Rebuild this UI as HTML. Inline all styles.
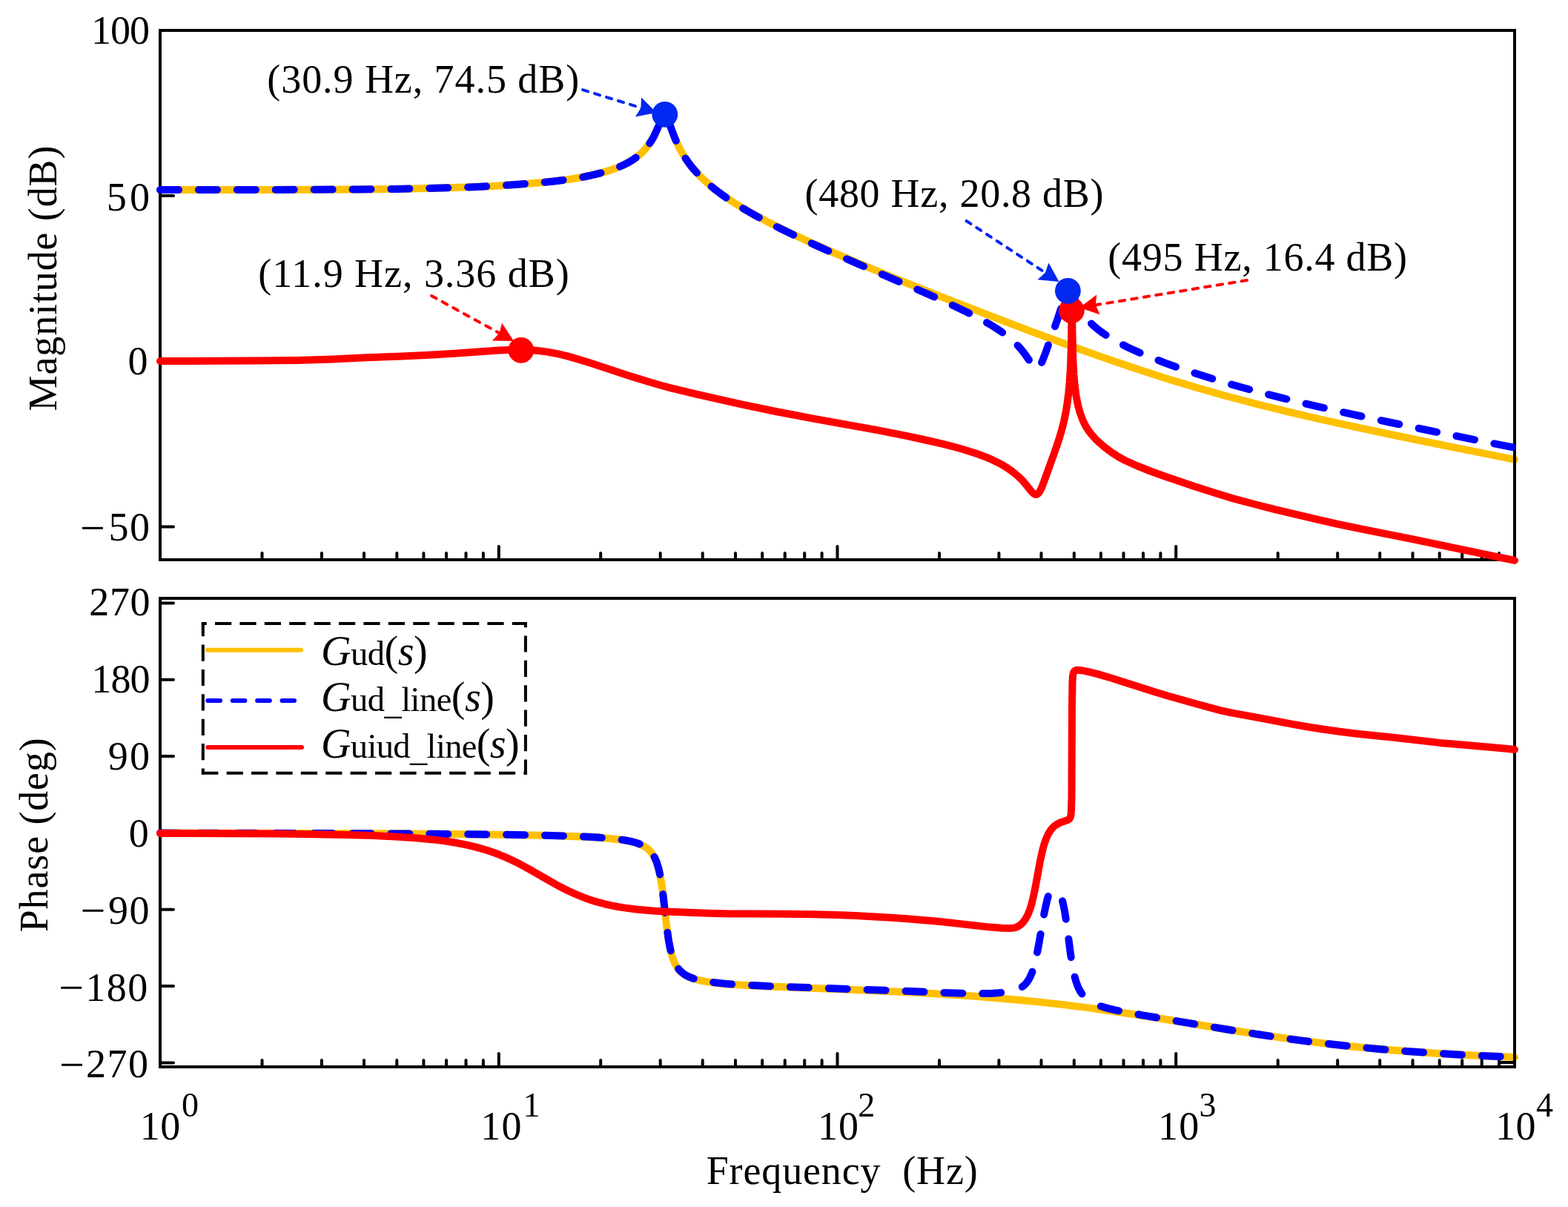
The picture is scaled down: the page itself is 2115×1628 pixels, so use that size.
<!DOCTYPE html>
<html lang="en"><head><meta charset="utf-8"><title>Bode plot</title>
<style>html,body{margin:0;padding:0;background:#fff;}svg{display:block;font-family:'Liberation Serif', 'DejaVu Serif', serif;}text{fill:#000;white-space:pre;}</style>
</head><body>
<svg width="2115" height="1628" viewBox="0 0 2115 1628" role="img" aria-label="Bode plot: magnitude and phase versus frequency">
<rect x="0" y="0" width="2115" height="1628" fill="#fff"/>
<path d="M216.0,256.1 L376.5,255.9 L480.7,255.5 L533.7,254.9 L586.4,253.8 L644.5,251.9 L665.7,250.9 L687.4,249.5 L712.1,247.7 L735.4,245.7 L753.3,243.7 L769.5,241.6 L783.6,239.3 L796.5,236.7 L810.0,233.4 L821.6,230.1 L831.3,226.7 L840.0,223.0 L847.7,219.0 L855.1,214.4 L861.1,210.0 L866.5,205.2 L871.3,200.0 L875.6,194.3 L879.6,188.1 L883.4,180.9 L886.2,174.9 L891.6,162.0 L893.5,158.0 L895.2,155.4 L896.1,154.9 L896.9,154.8 L897.7,155.2 L898.6,156.2 L900.4,159.7 L909.0,183.1 L911.9,190.0 L914.9,196.5 L917.8,202.2 L921.0,207.8 L924.3,213.1 L927.9,218.3 L932.4,224.2 L937.3,230.0 L942.5,235.7 L948.1,241.3 L954.2,246.8 L960.6,252.3 L967.6,257.8 L975.1,263.3 L983.4,269.0 L992.2,274.8 L1001.7,280.6 L1011.9,286.5 L1034.4,298.7 L1060.1,311.5 L1089.4,325.2 L1122.9,340.1 L1161.5,356.5 L1206.0,374.8 L1265.4,398.6 L1329.1,423.4 L1389.1,446.3 L1443.2,466.2 L1490.0,482.9 L1533.3,497.6 L1574.5,510.9 L1614.7,523.0 L1653.5,534.0 L1693.3,544.5 L1735.3,554.9 L1780.8,565.5 L1830.4,576.4 L1887.6,588.5 L1955.9,602.4 L2043.0,619.8" fill="none" stroke="#ffc000" stroke-width="10" stroke-linecap="round" stroke-linejoin="round"/>
<g stroke="#000" stroke-width="4" fill="none" stroke-linecap="round">
<line x1="353.5" y1="755.0" x2="353.5" y2="746.0"/>
<line x1="433.9" y1="755.0" x2="433.9" y2="746.0"/>
<line x1="491.0" y1="755.0" x2="491.0" y2="746.0"/>
<line x1="535.3" y1="755.0" x2="535.3" y2="746.0"/>
<line x1="571.4" y1="755.0" x2="571.4" y2="746.0"/>
<line x1="602.0" y1="755.0" x2="602.0" y2="746.0"/>
<line x1="628.5" y1="755.0" x2="628.5" y2="746.0"/>
<line x1="651.9" y1="755.0" x2="651.9" y2="746.0"/>
<line x1="672.8" y1="755.0" x2="672.8" y2="737.0"/>
<line x1="810.2" y1="755.0" x2="810.2" y2="746.0"/>
<line x1="890.7" y1="755.0" x2="890.7" y2="746.0"/>
<line x1="947.7" y1="755.0" x2="947.7" y2="746.0"/>
<line x1="992.0" y1="755.0" x2="992.0" y2="746.0"/>
<line x1="1028.2" y1="755.0" x2="1028.2" y2="746.0"/>
<line x1="1058.7" y1="755.0" x2="1058.7" y2="746.0"/>
<line x1="1085.2" y1="755.0" x2="1085.2" y2="746.0"/>
<line x1="1108.6" y1="755.0" x2="1108.6" y2="746.0"/>
<line x1="1129.5" y1="755.0" x2="1129.5" y2="737.0"/>
<line x1="1267.0" y1="755.0" x2="1267.0" y2="746.0"/>
<line x1="1347.4" y1="755.0" x2="1347.4" y2="746.0"/>
<line x1="1404.5" y1="755.0" x2="1404.5" y2="746.0"/>
<line x1="1448.8" y1="755.0" x2="1448.8" y2="746.0"/>
<line x1="1484.9" y1="755.0" x2="1484.9" y2="746.0"/>
<line x1="1515.5" y1="755.0" x2="1515.5" y2="746.0"/>
<line x1="1542.0" y1="755.0" x2="1542.0" y2="746.0"/>
<line x1="1565.4" y1="755.0" x2="1565.4" y2="746.0"/>
<line x1="1586.2" y1="755.0" x2="1586.2" y2="737.0"/>
<line x1="1723.7" y1="755.0" x2="1723.7" y2="746.0"/>
<line x1="1804.2" y1="755.0" x2="1804.2" y2="746.0"/>
<line x1="1861.2" y1="755.0" x2="1861.2" y2="746.0"/>
<line x1="1905.5" y1="755.0" x2="1905.5" y2="746.0"/>
<line x1="1941.7" y1="755.0" x2="1941.7" y2="746.0"/>
<line x1="1972.2" y1="755.0" x2="1972.2" y2="746.0"/>
<line x1="1998.7" y1="755.0" x2="1998.7" y2="746.0"/>
<line x1="2022.1" y1="755.0" x2="2022.1" y2="746.0"/>
<line x1="216.0" y1="264.1" x2="234.0" y2="264.1"/>
<line x1="216.0" y1="487.2" x2="234.0" y2="487.2"/>
<line x1="216.0" y1="710.4" x2="234.0" y2="710.4"/>
</g>
<rect x="216.0" y="41.0" width="1827.0" height="714.0" fill="none" stroke="#000" stroke-width="4"/>
<path d="M216.0,256.1 L376.5,255.9 L480.7,255.5 L507.1,255.3 L533.8,254.9 L560.4,254.4 L586.5,253.8 L616.8,252.9 L644.6,251.9 L665.8,250.9 L687.5,249.5 L712.3,247.7 L735.6,245.7 L744.9,244.7 L753.5,243.7 L761.7,242.7 L769.6,241.6 L776.8,240.5 L783.6,239.3 L790.3,238.0 L796.6,236.7 L803.4,235.1 L810.0,233.4 L816.0,231.8 L821.6,230.1 L826.6,228.4 L831.3,226.7 L835.8,224.9 L840.0,223.0 L844.0,221.1 L847.8,219.0 L851.6,216.8 L855.2,214.4 L858.3,212.2 L861.2,210.0 L863.9,207.6 L866.5,205.2 L869.0,202.7 L871.3,200.0 L873.5,197.3 L875.7,194.3 L877.7,191.3 L879.7,188.1 L881.6,184.7 L883.4,181.0 L886.3,174.8 L891.5,162.1 L893.4,158.1 L894.3,156.6 L895.2,155.5 L896.0,155.0 L896.4,154.8 L896.8,154.9" fill="none" stroke="#0000ff" stroke-width="10" stroke-linecap="round" stroke-linejoin="round" stroke-dasharray="25.0 26.9" stroke-dashoffset="0.0"/>
<path d="M896.8,154.9 L897.2,155.0 L897.7,155.2 L898.5,156.2 L899.4,157.7 L900.4,159.8 L902.0,163.8 L906.6,176.6 L909.2,183.6 L912.2,190.8 L915.4,197.6 L918.5,203.6 L921.9,209.3 L925.5,214.9 L929.4,220.4 L931.7,223.5 L934.2,226.6 L939.4,232.5 L945.1,238.5 L951.1,244.3 L957.7,250.0 L964.8,255.8 L972.5,261.6 L980.6,267.4 L989.3,273.1 L998.5,278.9 L1008.5,284.8 L1019.1,290.8 L1030.5,297.0 L1042.6,303.3 L1055.6,309.8 L1069.7,316.6 L1082.6,322.7 L1096.6,329.1 L1111.5,335.9 L1127.9,343.1 L1159.5,356.9 L1234.0,389.0 L1252.8,397.2 L1268.9,404.4 L1286.1,412.3 L1301.1,419.4 L1314.2,426.0 L1325.8,432.2 L1332.2,435.8 L1338.1,439.3 L1343.6,442.7 L1348.8,446.1 L1353.6,449.5 L1358.1,452.8 L1362.3,456.2 L1366.2,459.6 L1369.3,462.6 L1372.2,465.5 L1375.0,468.5 L1377.7,471.6 L1380.6,475.2 L1383.5,479.1 L1386.1,482.9 L1391.0,490.2 L1393.0,493.0 L1394.2,494.4 L1395.3,495.5 L1396.3,496.3 L1397.2,496.8 L1398.3,497.0 L1399.3,496.9 L1400.3,496.4 L1401.3,495.4 L1402.4,494.0 L1403.5,492.2 L1404.6,490.0 L1405.9,487.1 L1407.9,482.1 L1410.6,474.9 L1422.6,441.5 L1427.1,428.6 L1434.2,406.6 L1436.4,400.2 L1437.9,396.6 L1438.6,395.3 L1439.3,394.2 L1439.9,393.4 L1440.5,392.9" fill="none" stroke="#0000ff" stroke-width="10" stroke-linecap="round" stroke-linejoin="round" stroke-dasharray="25.0 26.9" stroke-dashoffset="38.4"/>
<path d="M1440.5,392.9 L1441.2,392.6 L1441.8,392.6 L1442.6,392.9 L1443.4,393.5 L1444.2,394.5 L1445.1,395.8 L1447.0,399.2 L1452.6,410.1 L1455.7,415.6 L1457.7,418.8 L1459.7,421.9 L1461.8,424.8 L1464.1,427.7 L1466.5,430.6 L1469.0,433.4 L1471.7,436.1 L1474.5,438.8 L1477.5,441.4 L1480.6,444.0 L1484.0,446.6 L1487.5,449.1 L1491.6,451.9 L1496.0,454.7 L1500.6,457.5 L1505.4,460.3 L1510.6,463.0 L1516.0,465.8 L1521.8,468.7 L1527.8,471.5 L1534.3,474.4 L1541.0,477.4 L1555.4,483.3 L1571.0,489.3 L1587.8,495.4 L1605.8,501.5 L1624.8,507.6 L1644.6,513.7 L1665.3,519.8 L1686.8,525.7 L1709.3,531.7 L1732.8,537.6 L1757.6,543.7 L1783.1,549.6 L1810.3,555.8 L1839.7,562.2 L1871.7,569.0 L1906.7,576.3 L1946.0,584.4 L1990.7,593.4 L2043.0,603.8" fill="none" stroke="#0000ff" stroke-width="10" stroke-linecap="round" stroke-linejoin="round" stroke-dasharray="25.0 26.9" stroke-dashoffset="48.7"/>
<path d="M216.0,487.1 L345.5,486.5 L400.3,486.0 L417.6,485.6 L449.2,484.4 L494.2,482.3 L542.6,480.5 L574.9,479.0 L613.6,476.8 L669.5,472.8 L690.6,471.8 L703.1,471.7 L714.7,472.1 L725.7,473.0 L736.6,474.4 L745.2,475.9 L754.1,477.7 L763.4,479.9 L773.4,482.6 L795.3,489.3 L848.2,506.7 L875.2,515.0 L889.7,519.2 L904.9,523.3 L939.2,531.7 L996.8,544.7 L1046.4,555.0 L1098.4,564.9 L1181.9,579.9 L1222.6,587.9 L1246.3,593.0 L1266.6,597.6 L1283.6,601.8 L1298.7,606.0 L1316.2,611.5 L1323.9,614.3 L1331.3,617.2 L1338.4,620.2 L1345.0,623.4 L1351.2,626.6 L1356.9,630.0 L1365.4,635.8 L1372.9,642.0 L1376.9,645.8 L1380.8,649.9 L1390.3,661.7 L1392.7,664.3 L1394.1,665.6 L1395.4,666.5 L1396.6,667.0 L1397.7,667.1 L1398.6,666.9 L1399.4,666.5 L1401.2,664.7 L1403.0,661.8 L1405.1,657.6 L1408.8,647.9 L1422.4,610.1 L1427.6,595.0 L1431.6,581.7 L1435.0,568.7 L1437.7,555.7 L1439.7,543.4 L1441.3,530.3 L1442.6,516.1 L1443.7,500.1 L1444.4,483.6 L1445.0,464.8 L1445.8,405.0 L1446.8,466.4 L1447.4,487.1 L1448.4,504.6 L1449.7,520.0 L1451.4,533.1 L1453.6,544.8 L1456.2,554.9 L1459.5,564.3 L1461.3,568.6 L1463.4,572.8 L1465.6,576.7 L1468.0,580.4 L1470.7,584.0 L1473.7,587.7 L1477.1,591.5 L1480.9,595.3 L1489.5,602.8 L1499.1,610.0 L1509.2,616.5 L1519.1,621.8 L1534.2,628.5 L1551.8,635.5 L1571.9,642.8 L1612.4,656.5 L1640.8,665.6 L1664.1,672.6 L1690.0,679.5 L1716.7,686.4 L1745.0,693.2 L1775.9,700.4 L1805.5,707.1 L1836.9,713.6 L1902.3,726.7 L1944.2,735.3 L2043.0,755.9" fill="none" stroke="#ff0000" stroke-width="10" stroke-linecap="round" stroke-linejoin="round"/>
<path d="M216.0,1123.6 L381.7,1123.9 L509.3,1124.3 L610.2,1125.0 L688.5,1125.9 L746.4,1127.1 L789.1,1128.7 L805.8,1129.6 L820.0,1130.7 L832.0,1131.9 L842.1,1133.3 L850.3,1134.9 L857.3,1136.7 L863.3,1138.9 L868.4,1141.3 L872.8,1144.2 L876.6,1147.6 L879.8,1151.6 L882.7,1156.2 L885.1,1161.5 L887.2,1167.6 L889.2,1174.9 L890.9,1183.5 L892.4,1192.6 L894.0,1203.5 L899.1,1248.0 L901.4,1265.3 L902.8,1273.7 L904.3,1281.1 L906.0,1287.6 L907.7,1293.2 L910.2,1299.1 L912.9,1304.0 L916.1,1308.3 L919.8,1311.9 L924.1,1315.0 L929.1,1317.6 L934.9,1319.9 L941.8,1321.8 L952.0,1323.9 L964.5,1325.7 L979.9,1327.2 L998.9,1328.6 L1037.9,1330.6 L1168.9,1335.7 L1240.3,1339.1 L1277.1,1341.3 L1311.8,1343.6 L1344.9,1346.2 L1376.9,1349.0 L1407.0,1352.1 L1436.7,1355.4 L1466.3,1359.1 L1496.4,1363.2 L1523.6,1367.2 L1552.9,1371.7 L1656.7,1388.8 L1700.2,1395.6 L1747.6,1402.4 L1793.1,1408.1 L1821.3,1411.2 L1849.8,1414.0 L1879.1,1416.5 L1909.2,1418.8 L1940.4,1420.9 L1972.9,1422.7 L2007.1,1424.4 L2043.0,1425.9" fill="none" stroke="#ffc000" stroke-width="10" stroke-linecap="round" stroke-linejoin="round"/>
<g stroke="#000" stroke-width="4" fill="none" stroke-linecap="round">
<line x1="353.5" y1="1439.0" x2="353.5" y2="1430.0"/>
<line x1="433.9" y1="1439.0" x2="433.9" y2="1430.0"/>
<line x1="491.0" y1="1439.0" x2="491.0" y2="1430.0"/>
<line x1="535.3" y1="1439.0" x2="535.3" y2="1430.0"/>
<line x1="571.4" y1="1439.0" x2="571.4" y2="1430.0"/>
<line x1="602.0" y1="1439.0" x2="602.0" y2="1430.0"/>
<line x1="628.5" y1="1439.0" x2="628.5" y2="1430.0"/>
<line x1="651.9" y1="1439.0" x2="651.9" y2="1430.0"/>
<line x1="672.8" y1="1439.0" x2="672.8" y2="1421.0"/>
<line x1="810.2" y1="1439.0" x2="810.2" y2="1430.0"/>
<line x1="890.7" y1="1439.0" x2="890.7" y2="1430.0"/>
<line x1="947.7" y1="1439.0" x2="947.7" y2="1430.0"/>
<line x1="992.0" y1="1439.0" x2="992.0" y2="1430.0"/>
<line x1="1028.2" y1="1439.0" x2="1028.2" y2="1430.0"/>
<line x1="1058.7" y1="1439.0" x2="1058.7" y2="1430.0"/>
<line x1="1085.2" y1="1439.0" x2="1085.2" y2="1430.0"/>
<line x1="1108.6" y1="1439.0" x2="1108.6" y2="1430.0"/>
<line x1="1129.5" y1="1439.0" x2="1129.5" y2="1421.0"/>
<line x1="1267.0" y1="1439.0" x2="1267.0" y2="1430.0"/>
<line x1="1347.4" y1="1439.0" x2="1347.4" y2="1430.0"/>
<line x1="1404.5" y1="1439.0" x2="1404.5" y2="1430.0"/>
<line x1="1448.8" y1="1439.0" x2="1448.8" y2="1430.0"/>
<line x1="1484.9" y1="1439.0" x2="1484.9" y2="1430.0"/>
<line x1="1515.5" y1="1439.0" x2="1515.5" y2="1430.0"/>
<line x1="1542.0" y1="1439.0" x2="1542.0" y2="1430.0"/>
<line x1="1565.4" y1="1439.0" x2="1565.4" y2="1430.0"/>
<line x1="1586.2" y1="1439.0" x2="1586.2" y2="1421.0"/>
<line x1="1723.7" y1="1439.0" x2="1723.7" y2="1430.0"/>
<line x1="1804.2" y1="1439.0" x2="1804.2" y2="1430.0"/>
<line x1="1861.2" y1="1439.0" x2="1861.2" y2="1430.0"/>
<line x1="1905.5" y1="1439.0" x2="1905.5" y2="1430.0"/>
<line x1="1941.7" y1="1439.0" x2="1941.7" y2="1430.0"/>
<line x1="1972.2" y1="1439.0" x2="1972.2" y2="1430.0"/>
<line x1="1998.7" y1="1439.0" x2="1998.7" y2="1430.0"/>
<line x1="2022.1" y1="1439.0" x2="2022.1" y2="1430.0"/>
<line x1="216.0" y1="813.4" x2="234.0" y2="813.4"/>
<line x1="216.0" y1="916.7" x2="234.0" y2="916.7"/>
<line x1="216.0" y1="1020.1" x2="234.0" y2="1020.1"/>
<line x1="216.0" y1="1123.4" x2="234.0" y2="1123.4"/>
<line x1="216.0" y1="1226.7" x2="234.0" y2="1226.7"/>
<line x1="216.0" y1="1330.1" x2="234.0" y2="1330.1"/>
<line x1="216.0" y1="1433.4" x2="234.0" y2="1433.4"/>
</g>
<rect x="216.0" y="807.0" width="1827.0" height="632.0" fill="none" stroke="#000" stroke-width="4"/>
<line x1="2023" y1="1433" x2="2043" y2="1433" stroke="#000" stroke-width="4"/>
<path d="M216.0,1123.6 L395.7,1123.9 L531.0,1124.4 L586.7,1124.8 L635.3,1125.2 L677.3,1125.7 L713.4,1126.3 L743.1,1126.9 L768.3,1127.7 L789.6,1128.6 L807.4,1129.6 L822.3,1130.7 L828.9,1131.4 L834.8,1132.1 L840.2,1132.9 L845.2,1133.7 L849.8,1134.6 L853.9,1135.6 L857.2,1136.5 L860.3,1137.5 L863.1,1138.6 L865.8,1139.8 L868.2,1141.0 L870.5,1142.4 L872.6,1143.9 L874.5,1145.4 L876.3,1147.2 L878.0,1149.0 L879.6,1151.0 L881.0,1153.1 L882.4,1155.5 L883.7,1158.0 L884.9,1160.7 L886.0,1163.7 L887.7,1169.2 L889.3,1175.5 L890.8,1182.8 L892.3,1191.2 L893.5,1199.4 L894.6,1208.8 L898.4,1242.3 L900.0,1255.0 L901.7,1267.1 L903.5,1276.8 L904.6,1281.9 L905.7,1286.4 L906.9,1290.6 L908.2,1294.3 L909.6,1297.7 L911.1,1300.8 L912.8,1303.6 L914.6,1306.2 L916.8,1308.8 L919.3,1311.2 L922.0,1313.4 L924.9,1315.3 L928.2,1317.0 L931.9,1318.5 L935.9,1320.0 L940.5,1321.2 L945.4,1322.4 L951.0,1323.5 L957.2,1324.4 L964.1,1325.3 L971.8,1326.1 L980.4,1326.9 L990.0,1327.6 L1000.7,1328.3 L1025.1,1329.6 L1056.8,1330.9 L1178.6,1335.2 L1281.3,1339.2 L1297.8,1339.7 L1311.0,1340.0 L1321.8,1340.1 L1331.1,1340.1 L1339.1,1339.8 L1346.1,1339.3 L1352.6,1338.6 L1359.4,1337.5 L1365.5,1336.3 L1366.3,1336.0" fill="none" stroke="#0000ff" stroke-width="10" stroke-linecap="round" stroke-linejoin="round" stroke-dasharray="25.0 26.9" stroke-dashoffset="0.0"/>
<path d="M1366.3,1336.0 L1370.4,1334.9 L1372.4,1334.2 L1374.3,1333.5 L1376.1,1332.7 L1377.6,1331.8 L1379.0,1330.9 L1380.5,1329.7 L1381.9,1328.5 L1383.2,1327.2 L1384.5,1325.7 L1385.7,1324.1 L1386.9,1322.4 L1388.0,1320.5 L1389.1,1318.6 L1390.1,1316.4 L1392.1,1311.6 L1393.7,1307.0 L1395.3,1301.6 L1396.7,1295.7 L1398.2,1289.0 L1399.5,1282.5 L1401.0,1274.8 L1405.9,1246.2 L1407.9,1234.9 L1410.3,1223.1 L1412.5,1213.7 L1413.8,1209.1 L1415.1,1205.2 L1416.3,1201.9 L1417.6,1199.2 L1418.8,1197.2 L1419.3,1196.5 L1419.9,1195.9 L1420.5,1195.5 L1421.2,1195.2 L1421.8,1195.1 L1422.4,1195.1 L1422.8,1195.2" fill="none" stroke="#0000ff" stroke-width="10" stroke-linecap="round" stroke-linejoin="round" stroke-dasharray="25.0 26.9" stroke-dashoffset="38.4"/>
<path d="M1422.8,1195.2 L1423.1,1195.3 L1423.9,1195.8 L1424.6,1196.5 L1425.4,1197.4 L1427.0,1199.9 L1428.9,1203.7 L1430.4,1207.0 L1431.7,1210.5 L1433.0,1214.9 L1434.2,1219.7 L1435.1,1224.2 L1436.1,1229.2 L1437.9,1240.6 L1439.6,1252.5 L1443.8,1285.2 L1445.1,1294.2 L1446.4,1301.8 L1447.9,1309.9 L1449.4,1316.8 L1451.1,1322.9 L1452.9,1328.2 L1454.0,1331.0 L1455.2,1333.6 L1456.4,1335.9 L1457.7,1338.1 L1459.1,1340.2 L1460.5,1342.0 L1462.1,1343.8 L1463.8,1345.5 L1465.6,1347.1 L1467.5,1348.6 L1469.6,1350.0 L1471.9,1351.4 L1472.5,1351.7" fill="none" stroke="#0000ff" stroke-width="10" stroke-linecap="round" stroke-linejoin="round" stroke-dasharray="25.0 26.9" stroke-dashoffset="28.9"/>
<path d="M1472.5,1351.7 L1474.5,1352.8 L1477.2,1354.1 L1480.1,1355.4 L1483.2,1356.6 L1489.2,1358.6 L1495.7,1360.4 L1503.1,1362.1 L1513.4,1364.2 L1525.5,1366.5 L1541.2,1369.3 L1603.2,1379.9 L1656.7,1388.8 L1678.1,1392.2 L1697.9,1395.3 L1717.3,1398.2 L1736.1,1400.9 L1754.6,1403.4 L1772.8,1405.7 L1803.4,1409.3 L1834.2,1412.5 L1865.7,1415.4 L1898.1,1418.0 L1931.7,1420.4 L1966.9,1422.4 L2003.9,1424.3 L2043.0,1425.9" fill="none" stroke="#0000ff" stroke-width="10" stroke-linecap="round" stroke-linejoin="round" stroke-dasharray="25.0 26.9" stroke-dashoffset="38.4"/>
<path d="M216.0,1123.9 L370.7,1124.6 L423.6,1125.2 L466.5,1126.0 L502.9,1127.0 L533.8,1128.4 L560.6,1130.2 L584.1,1132.4 L596.2,1133.9 L607.5,1135.5 L618.2,1137.3 L628.4,1139.4 L638.2,1141.6 L647.6,1144.1 L656.7,1146.8 L665.5,1149.8 L673.6,1152.8 L681.6,1156.1 L689.6,1159.7 L697.8,1163.7 L713.4,1172.1 L741.8,1188.4 L753.5,1195.0 L766.3,1201.5 L778.4,1206.9 L785.8,1209.9 L793.3,1212.7 L800.9,1215.2 L808.6,1217.4 L816.5,1219.5 L824.7,1221.3 L833.1,1223.0 L841.9,1224.4 L860.3,1226.8 L880.7,1228.6 L896.5,1229.4 L948.2,1231.6 L963.5,1232.0 L986.1,1232.4 L1057.0,1232.7 L1096.9,1233.2 L1126.6,1233.9 L1154.0,1235.0 L1206.2,1238.1 L1226.6,1239.6 L1265.1,1242.8 L1335.8,1250.6 L1350.9,1251.8 L1364.5,1251.9 L1368.4,1251.4 L1371.8,1250.3 L1374.7,1248.7 L1377.9,1246.1 L1380.8,1243.0 L1383.4,1239.2 L1385.8,1234.9 L1388.0,1229.8 L1389.7,1225.2 L1391.3,1220.0 L1394.3,1207.6 L1396.9,1194.7 L1402.8,1162.5 L1406.1,1147.3 L1407.9,1140.5 L1409.8,1134.6 L1411.8,1129.5 L1413.9,1125.0 L1415.9,1121.6 L1418.0,1118.6 L1420.3,1116.0 L1422.8,1113.8 L1425.8,1111.7 L1429.1,1110.0 L1432.5,1108.7 L1438.9,1106.6 L1441.0,1105.7 L1442.1,1104.8 L1442.9,1103.9 L1443.6,1102.6 L1444.1,1101.1 L1444.6,1098.0 L1445.0,1093.0 L1445.5,1075.9 L1446.0,952.9 L1446.5,920.2 L1446.9,912.7 L1447.7,908.1 L1448.3,906.7 L1449.0,905.5 L1449.9,904.7 L1451.1,904.1 L1452.7,903.7 L1454.6,903.7 L1461.3,904.6 L1469.4,906.3 L1479.6,908.9 L1499.6,914.8 L1556.8,932.9 L1574.2,938.2 L1613.2,949.3 L1645.8,958.1 L1654.8,960.1 L1664.9,962.2 L1696.5,967.9 L1742.6,976.7 L1762.9,980.2 L1785.7,983.8 L1808.8,987.0 L1830.8,989.7 L1880.0,994.8 L1942.0,1001.9 L1966.3,1004.1 L2012.2,1007.9 L2043.0,1010.9" fill="none" stroke="#ff0000" stroke-width="10" stroke-linecap="round" stroke-linejoin="round"/>
<rect x="273.8" y="841" width="435.1" height="201.8" fill="#fff" stroke="none"/>
<g stroke="#000" stroke-width="4" stroke-dasharray="22.2 11.2" fill="none">
<line x1="271.8" y1="841" x2="710.9" y2="841" stroke-dashoffset="15.2"/>
<line x1="271.8" y1="1042.8" x2="710.9" y2="1042.8" stroke-dashoffset="-0.4"/>
<line x1="273.8" y1="839" x2="273.8" y2="1044.8" stroke-dashoffset="2.9"/>
<line x1="708.9" y1="839" x2="708.9" y2="1044.8" stroke-dashoffset="15"/>
</g>
<line x1="279.7" y1="876.8" x2="405.9" y2="876.8" stroke="#ffc000" stroke-width="6" stroke-linecap="round"/>
<line x1="280.3" y1="945" x2="397" y2="945" stroke="#0000ff" stroke-width="6" stroke-linecap="round" stroke-dasharray="16.7 16.7"/>
<line x1="280.3" y1="1007.9" x2="407" y2="1007.9" stroke="#ff0000" stroke-width="6" stroke-linecap="round"/>
<line x1="786.0" y1="121.2" x2="866.3" y2="146.0" stroke="#0028f0" stroke-width="4" stroke-dasharray="7.5 9.2" stroke-linecap="round"/><polygon points="885.6,152.0 857.0,157.4 864.4,145.4 865.1,131.4" fill="#0028f0"/>
<line x1="582.0" y1="399.0" x2="675.3" y2="450.3" stroke="#ff0000" stroke-width="4" stroke-dasharray="7.5 9.2" stroke-linecap="round"/><polygon points="693.0,460.0 663.9,459.6 673.5,449.3 677.1,435.7" fill="#ff0000"/>
<line x1="1682.0" y1="378.0" x2="1475.9" y2="411.7" stroke="#ff0000" stroke-width="4" stroke-dasharray="7.5 9.2" stroke-linecap="round"/><polygon points="1456.0,415.0 1479.2,397.4 1477.9,411.4 1483.6,424.3" fill="#ff0000"/>
<line x1="1303.5" y1="298.0" x2="1411.6" y2="368.9" stroke="#0028f0" stroke-width="4" stroke-dasharray="7.2 9.2" stroke-linecap="round"/><polygon points="1428.5,380.0 1399.5,377.3 1409.9,367.8 1414.5,354.5" fill="#0028f0"/>
<circle cx="896.8" cy="154.4" r="17.4" fill="#0028f0"/>
<circle cx="702.8" cy="472.3" r="17.4" fill="#ff0000"/>
<circle cx="1445.4" cy="418.8" r="17.4" fill="#ff0000"/>
<circle cx="1440.4" cy="392.4" r="17.4" fill="#0028f0"/>
<text x="123.05" y="58.90" xml:space="preserve" font-size="54.0" letter-spacing="-1.025">100</text>
<text x="143.65" y="283.90" xml:space="preserve" font-size="54.0" letter-spacing="4.350">50</text>
<text x="172.50" y="504.90" xml:space="preserve" font-size="54.0" letter-spacing="0.000">0</text>
<text x="108.00" y="729.40" xml:space="preserve" font-size="54.0" letter-spacing="1.5"><tspan font-size="60" dy="2.2">−</tspan><tspan dy="-2.2" dx="3.250">50</tspan></text>
<text x="120.25" y="830.00" xml:space="preserve" font-size="54.0" letter-spacing="0.625">270</text>
<text x="123.25" y="934.00" xml:space="preserve" font-size="54.0" letter-spacing="-0.875">180</text>
<text x="145.75" y="1038.20" xml:space="preserve" font-size="54.0" letter-spacing="2.250">90</text>
<text x="173.80" y="1142.10" xml:space="preserve" font-size="54.0" letter-spacing="0.000">0</text>
<text x="108.50" y="1246.20" xml:space="preserve" font-size="54.0" letter-spacing="1.5"><tspan font-size="60" dy="2.2">−</tspan><tspan dy="-2.2" dx="2.250">90</tspan></text>
<text x="79.30" y="1350.00" xml:space="preserve" font-size="54.0" letter-spacing="1.5"><tspan font-size="60" dy="2.2">−</tspan><tspan dy="-2.2" dx="0.650">180</tspan></text>
<text x="80.10" y="1453.30" xml:space="preserve" font-size="54.0" letter-spacing="1.5"><tspan font-size="60" dy="2.2">−</tspan><tspan dy="-2.2" dx="0.550">270</tspan></text>
<text x="188.85" y="1537.00" xml:space="preserve" font-size="54.0" letter-spacing="0.450">10</text>
<text x="244.95" y="1506.00" xml:space="preserve" font-size="46" letter-spacing="0.000">0</text>
<text x="648.25" y="1537.00" xml:space="preserve" font-size="54.0" letter-spacing="1.150">10</text>
<text x="705.50" y="1506.00" xml:space="preserve" font-size="46" letter-spacing="0.000">1</text>
<text x="1102.95" y="1537.00" xml:space="preserve" font-size="54.0" letter-spacing="1.150">10</text>
<text x="1157.20" y="1506.00" xml:space="preserve" font-size="46" letter-spacing="0.000">2</text>
<text x="1562.05" y="1537.00" xml:space="preserve" font-size="54.0" letter-spacing="1.150">10</text>
<text x="1617.45" y="1506.00" xml:space="preserve" font-size="46" letter-spacing="0.000">3</text>
<text x="2017.05" y="1537.00" xml:space="preserve" font-size="54.0" letter-spacing="0.450">10</text>
<text x="2071.90" y="1506.00" xml:space="preserve" font-size="46" letter-spacing="0.000">4</text>
<text x="360.35" y="125.30" xml:space="preserve" font-size="54.0" letter-spacing="0.932">(30.9 Hz, 74.5 dB)</text>
<text x="1085.45" y="279.30" xml:space="preserve" font-size="54.0" letter-spacing="0.728">(480 Hz, 20.8 dB)</text>
<text x="1494.35" y="365.10" xml:space="preserve" font-size="54.0" letter-spacing="0.766">(495 Hz, 16.4 dB)</text>
<text x="348.35" y="387.40" xml:space="preserve" font-size="54.0" letter-spacing="0.962">(11.9 Hz, 3.36 dB)</text>
<text x="952.70" y="1596.70" xml:space="preserve" font-size="54.0" letter-spacing="0.871">Frequency  (Hz)</text>
<text x="0" y="0" xml:space="preserve" font-size="54.0" letter-spacing="0.885" transform="translate(76.30,554.50) rotate(-90)">Magnitude (dB)</text>
<text x="0" y="0" xml:space="preserve" font-size="54.0" letter-spacing="0.870" transform="translate(64.30,1257.30) rotate(-90)">Phase (deg)</text>
<text x="433.00" y="896.50" xml:space="preserve" font-size="56" letter-spacing="-0.490"><tspan font-style="italic" font-size="56">G</tspan><tspan font-size="46.5">ud</tspan><tspan font-size="56">(<tspan font-style="italic">s</tspan>)</tspan></text>
<text x="433.00" y="959.30" xml:space="preserve" font-size="56" letter-spacing="-0.520"><tspan font-style="italic" font-size="56">G</tspan><tspan font-size="46.5">ud<tspan dy="3.2">_</tspan><tspan dy="-3.2">line</tspan></tspan><tspan font-size="56">(<tspan font-style="italic">s</tspan>)</tspan></text>
<text x="433.00" y="1022.30" xml:space="preserve" font-size="56" letter-spacing="-0.629"><tspan font-style="italic" font-size="56">G</tspan><tspan font-size="46.5">uiud<tspan dy="3.2">_</tspan><tspan dy="-3.2">line</tspan></tspan><tspan font-size="56">(<tspan font-style="italic">s</tspan>)</tspan></text>
</svg>
</body></html>
